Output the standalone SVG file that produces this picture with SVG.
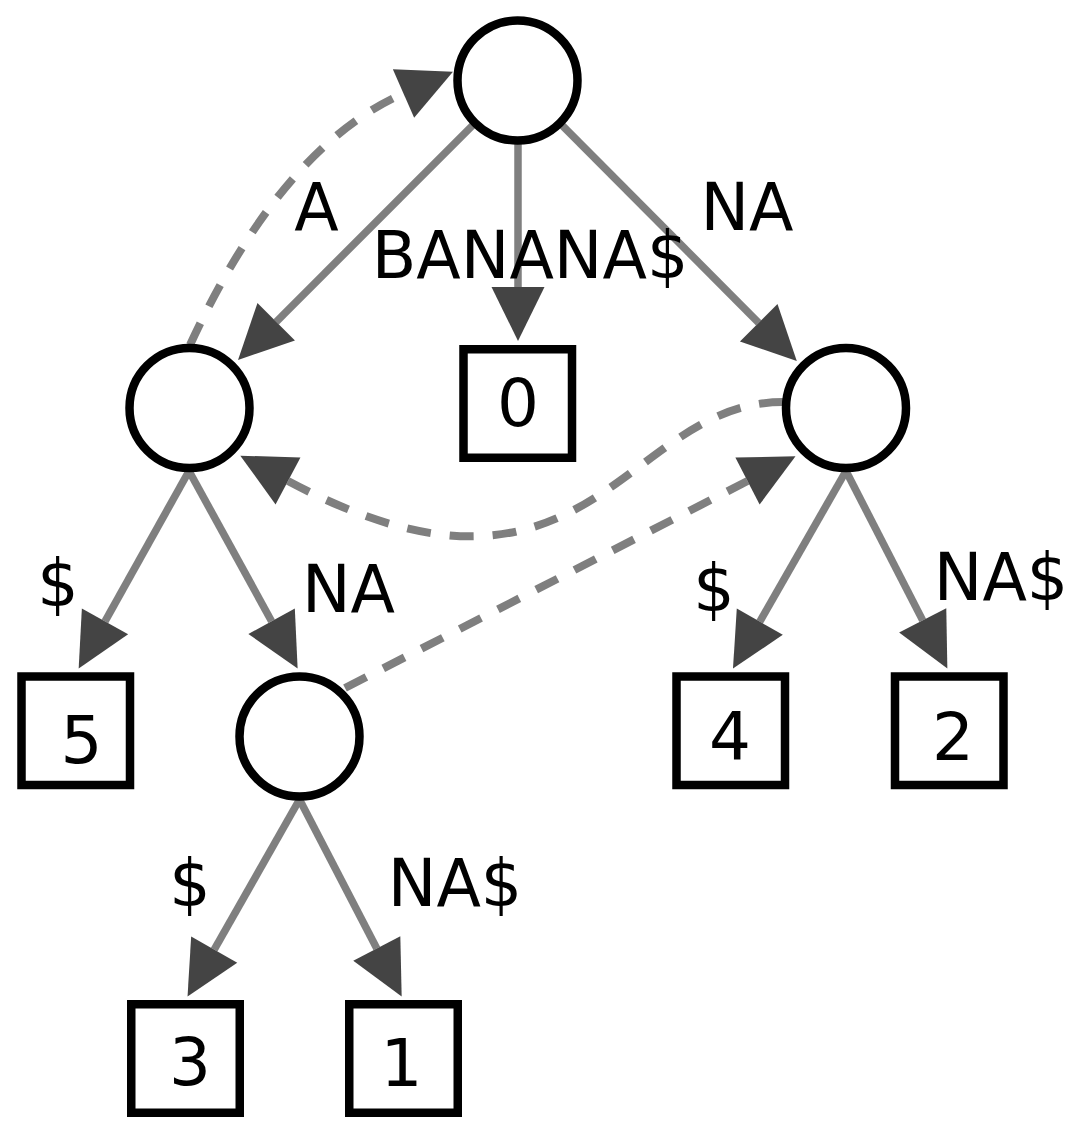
<svg xmlns="http://www.w3.org/2000/svg" width="1080" height="1146" viewBox="0 0 1080 1146">
<style>
.edge{fill:none;stroke:#7f7f7f;stroke-width:7.5}
.dash{fill:none;stroke:#7f7f7f;stroke-width:8;stroke-dasharray:24 19}
.circ{fill:#fff;stroke:#000;stroke-width:8.5}
.leaf{fill:#fff;stroke:#000;stroke-width:8.5}
.lbl{font-family:"DejaVu Sans",sans-serif;font-size:65px;fill:#000;text-anchor:middle}
.num{font-family:"DejaVu Sans",sans-serif;font-size:66px;fill:#000;text-anchor:middle}
</style>
<defs>
<marker id="ah" markerUnits="userSpaceOnUse" markerWidth="60" markerHeight="60" viewBox="0 -30 60 60" refX="0" refY="0" orient="auto" overflow="visible">
<path d="M0,-26.5 L54,0 L0,26.5 Z" fill="#444"/>
</marker>
</defs>
<rect width="1080" height="1146" fill="#fff"/>
<g id="connectors">
<line class="edge" x1="517.5" y1="80.5" x2="276.2" y2="321.8" marker-end="url(#ah)"/>
<line class="edge" x1="518" y1="80.5" x2="518" y2="287" marker-end="url(#ah)"/>
<line class="edge" x1="517.5" y1="80.5" x2="758.7" y2="322.8" marker-end="url(#ah)"/>
<line class="edge" x1="189" y1="471" x2="105" y2="621.4" marker-end="url(#ah)"/>
<line class="edge" x1="189" y1="471" x2="271.6" y2="621.2" marker-end="url(#ah)"/>
<line class="edge" x1="846" y1="471" x2="759.8" y2="621.7" marker-end="url(#ah)"/>
<line class="edge" x1="846" y1="471" x2="922.7" y2="620.4" marker-end="url(#ah)"/>
<line class="edge" x1="299.5" y1="799.5" x2="214.2" y2="949.6" marker-end="url(#ah)"/>
<line class="edge" x1="299.5" y1="799.5" x2="376.8" y2="948.5" marker-end="url(#ah)"/>
<path class="dash" d="M190,345 Q281.5,147 403.5,93.5" marker-end="url(#ah)"/>
<path class="dash" d="M783,402 C623,402 589.6,641.5 288,481" marker-end="url(#ah)"/>
<path class="dash" d="M345,688 L747.5,481" marker-end="url(#ah)"/>
<text class="lbl" x="316.5" y="230">A</text>
<text class="lbl" x="530" y="278">BANANA$</text>
<text class="lbl" x="747" y="230">NA</text>
<text class="lbl" x="58" y="606">$</text>
<text class="lbl" x="348.5" y="612">NA</text>
<text class="lbl" x="714" y="611">$</text>
<text class="lbl" x="1001" y="600">NA$</text>
<text class="lbl" x="190" y="906">$</text>
<text class="lbl" x="455" y="906">NA$</text>
</g>
<g id="node-root"><circle class="circ" cx="517.5" cy="80.5" r="60"/></g>
<g id="node-A"><circle class="circ" cx="189.5" cy="408" r="60"/></g>
<g id="node-NA"><circle class="circ" cx="846" cy="408" r="60"/></g>
<g id="node-ANA"><circle class="circ" cx="299.5" cy="736.5" r="60"/></g>
<g id="leaf-0"><rect class="leaf" x="463.5" y="349.25" width="108.5" height="108.5"/><text class="num" x="518" y="426">0</text></g>
<g id="leaf-5"><rect class="leaf" x="21.5" y="676.5" width="108.5" height="108.5"/><text class="num" x="81.5" y="763">5</text></g>
<g id="leaf-4"><rect class="leaf" x="676.5" y="676.5" width="108.5" height="108.5"/><text class="num" x="730" y="759">4</text></g>
<g id="leaf-2"><rect class="leaf" x="895" y="676.5" width="108.5" height="108.5"/><text class="num" x="953" y="760">2</text></g>
<g id="leaf-3"><rect class="leaf" x="131.25" y="1004.25" width="108.5" height="108.5"/><text class="num" x="190" y="1085">3</text></g>
<g id="leaf-1"><rect class="leaf" x="349.25" y="1004.25" width="108.5" height="108.5"/><text class="num" x="401.5" y="1086">1</text></g>
</svg>
